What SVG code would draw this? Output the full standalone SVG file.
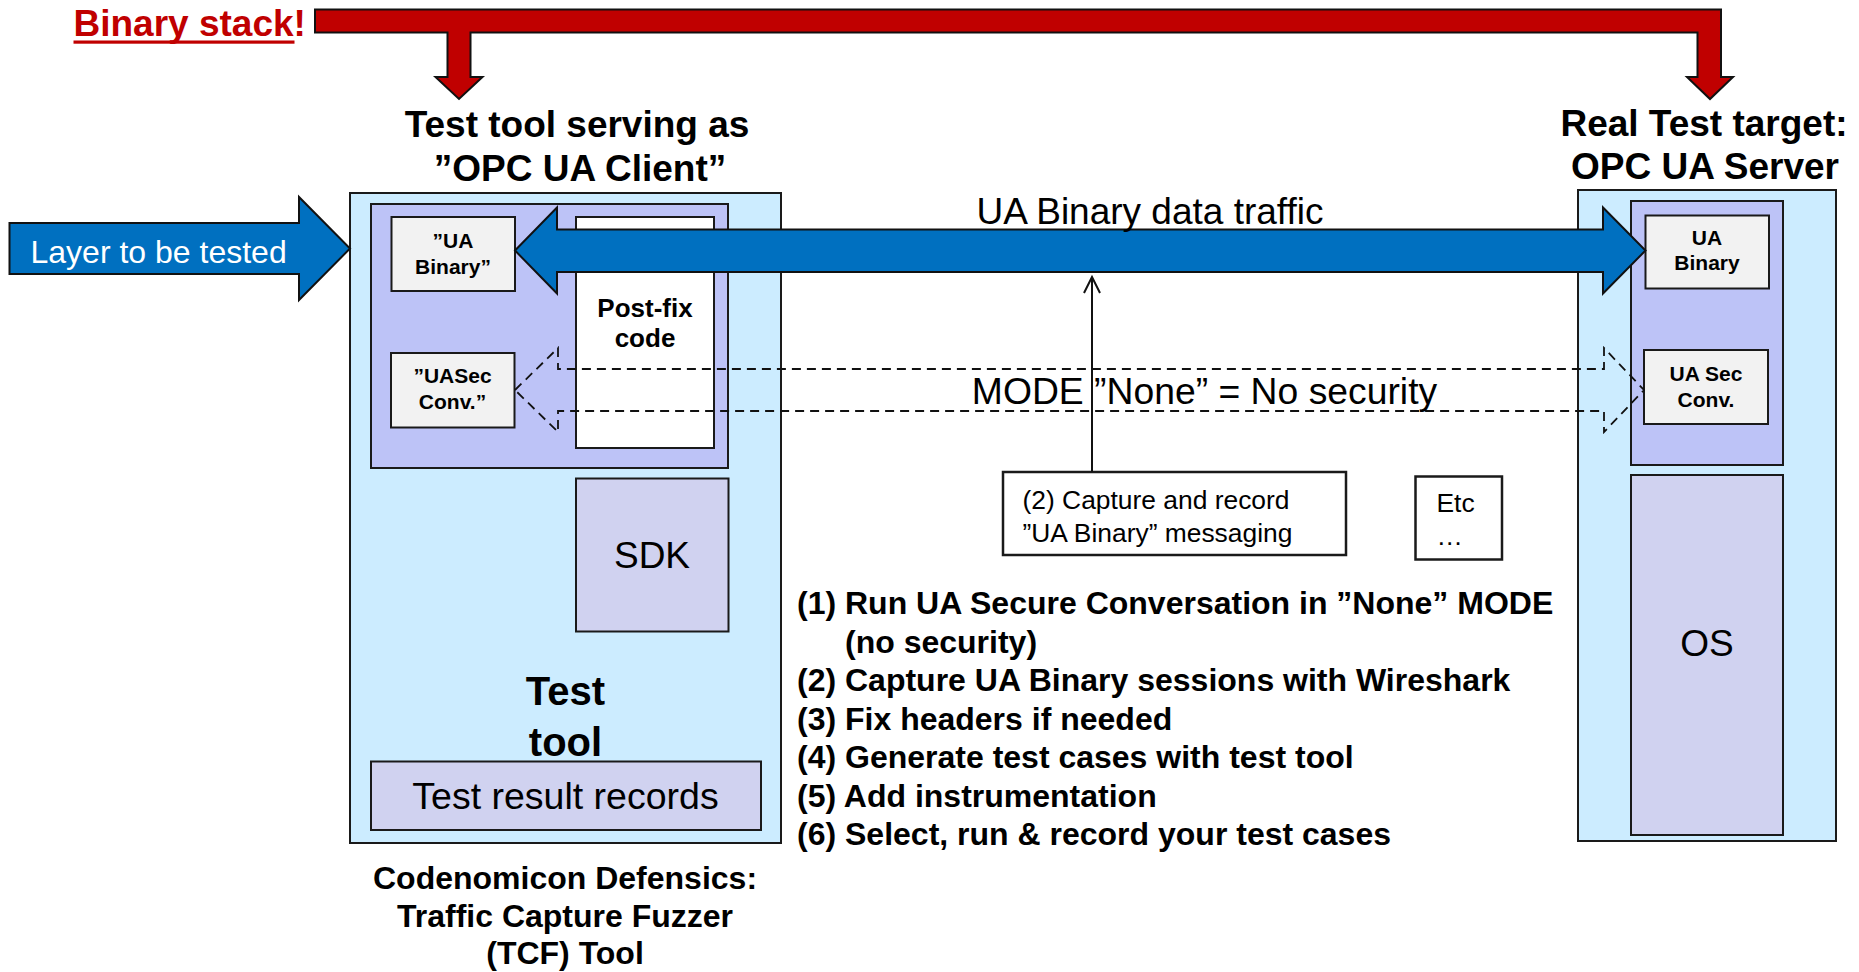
<svg xmlns="http://www.w3.org/2000/svg" width="1859" height="972" viewBox="0 0 1859 972">
  <style>
    text { font-family: "Liberation Sans", Arial, sans-serif; fill: #000; }
    .b { font-weight: bold; }
    .mid { text-anchor: middle; }
    .outer { fill: #CCECFF; stroke: #1a1a1a; stroke-width: 2; }
    .stack { fill: #BDC3F7; stroke: #1a1a1a; stroke-width: 2; }
    .layer { fill: #F2F2F2; stroke: #1a1a1a; stroke-width: 2; }
    .soft { fill: #D0D2F0; stroke: #1a1a1a; stroke-width: 2; }
    .white { fill: #FFFFFF; stroke: #1a1a1a; stroke-width: 2; }
    .note { fill: #FFFFFF; stroke: #1a1a1a; stroke-width: 2.5; }
    .blue { fill: #0070C0; stroke: #111; stroke-width: 2; }
    .red { fill: #C00000; stroke: #111; stroke-width: 2; }
    .dash { fill: none; stroke: #111; stroke-width: 1.8; stroke-dasharray: 9 6; }
    .thin { fill: none; stroke: #111; stroke-width: 2; }
  </style>

  <!-- heading -->
  <g id="binary-stack">
    <text x="73.5" y="35.5" class="b" font-size="37" style="fill:#C00000">Binary stack!</text>
    <rect x="73.5" y="40.5" width="221" height="3.2" fill="#C00000"/>
  </g>

  <!-- test tool (client side) -->
  <g id="test-tool">
    <rect class="outer" x="350" y="193" width="431" height="650"/>
    <text class="b mid" x="565.5" y="705" font-size="40">Test</text>
    <text class="b mid" x="565.5" y="756" font-size="40">tool</text>
  </g>
  <g id="client-title">
    <text class="b mid" x="577" y="137" font-size="37">Test tool serving as</text>
    <text class="b mid" x="580" y="181" font-size="37">”OPC UA Client”</text>
  </g>
  <g id="client-stack">
    <rect class="stack" x="371" y="204" width="357" height="264"/>
  </g>
  <g id="client-ua-binary">
    <rect class="layer" x="391.5" y="217" width="123.5" height="74"/>
    <text class="b mid" x="453" y="248" font-size="21">”UA</text>
    <text class="b mid" x="453" y="274" font-size="21">Binary”</text>
  </g>
  <g id="client-uasec">
    <rect class="layer" x="391" y="353" width="123.5" height="74.5"/>
    <text class="b mid" x="452.5" y="383" font-size="21">”UASec</text>
    <text class="b mid" x="452.5" y="409" font-size="21">Conv.”</text>
  </g>
  <g id="post-fix-code">
    <rect class="white" x="576" y="217" width="138" height="231"/>
    <text class="b mid" x="645" y="316.5" font-size="26">Post-fix</text>
    <text class="b mid" x="645" y="346.5" font-size="26">code</text>
  </g>
  <g id="sdk">
    <rect class="soft" x="576" y="478.5" width="152.5" height="153"/>
    <text class="mid" x="652" y="568" font-size="37">SDK</text>
  </g>
  <g id="test-result-records">
    <rect class="soft" x="371" y="761.5" width="390" height="68.5"/>
    <text class="mid" x="565.5" y="808.5" font-size="37.5">Test result records</text>
  </g>
  <g id="tool-caption">
    <text class="b mid" x="565" y="889" font-size="32">Codenomicon Defensics:</text>
    <text class="b mid" x="565" y="927" font-size="32">Traffic Capture Fuzzer</text>
    <text class="b mid" x="565" y="964" font-size="32">(TCF) Tool</text>
  </g>

  <!-- real test target (server side) -->
  <g id="server-title">
    <text class="b mid" x="1704" y="136" font-size="37">Real Test target:</text>
    <text class="b mid" x="1705" y="179" font-size="37">OPC UA Server</text>
  </g>
  <g id="test-target">
    <rect class="outer" x="1578" y="190" width="258" height="651"/>
  </g>
  <g id="server-stack">
    <rect class="stack" x="1631" y="201" width="152" height="264"/>
  </g>
  <g id="server-ua-binary">
    <rect class="layer" x="1645.5" y="215.5" width="123.5" height="73"/>
    <text class="b mid" x="1707" y="245" font-size="21">UA</text>
    <text class="b mid" x="1707" y="270" font-size="21">Binary</text>
  </g>
  <g id="server-uasec">
    <rect class="layer" x="1644" y="350" width="124" height="74"/>
    <text class="b mid" x="1706" y="381" font-size="21">UA Sec</text>
    <text class="b mid" x="1706" y="407" font-size="21">Conv.</text>
  </g>
  <g id="os">
    <rect class="soft" x="1631" y="475" width="152" height="360"/>
    <text class="mid" x="1707" y="656" font-size="37">OS</text>
  </g>

  <!-- side notes -->
  <g id="capture-note">
    <rect class="note" x="1003" y="472" width="343" height="83"/>
    <text x="1022.5" y="509" font-size="26.4">(2) Capture and record</text>
    <text x="1022.5" y="541.5" font-size="26.4">”UA Binary” messaging</text>
  </g>
  <g id="etc-note">
    <rect class="note" x="1415.5" y="476.5" width="86.5" height="83"/>
    <text x="1436.5" y="512" font-size="26.4">Etc</text>
    <text x="1436.5" y="545" font-size="26.4">…</text>
  </g>
  <g id="steps">
    <text x="797" y="614" class="b" font-size="32">(1) Run UA Secure Conversation in ”None” MODE</text>
    <text x="845" y="652.5" class="b" font-size="32">(no security)</text>
    <text x="797" y="691" class="b" font-size="32">(2) Capture UA Binary sessions with Wireshark</text>
    <text x="797" y="729.5" class="b" font-size="32">(3) Fix headers if needed</text>
    <text x="797" y="768" class="b" font-size="32">(4) Generate test cases with test tool</text>
    <text x="797" y="806.5" class="b" font-size="32">(5) Add instrumentation</text>
    <text x="797" y="845" class="b" font-size="32">(6) Select, run &amp; record your test cases</text>
  </g>

  <!-- connectors -->
  <g id="connectors">
    <!-- red bracket arrow from the heading down to both stacks -->
    <path class="red" d="M315,9.5 H1721 V77 H1733 L1710,99 L1687,77 H1697.5 V32.5 H470.5 V77 H482.5 L459,99 L435.5,77 H447.5 V32.5 H315 Z"/>
    <!-- layer under test -->
    <path class="blue" d="M9.5,223 H299 V197 L350,248.5 L299,300 V274 H9.5 Z"/>
    <text x="30.5" y="263" font-size="32" style="fill:#FFFFFF">Layer to be tested</text>
    <!-- UA Binary data traffic, both directions -->
    <path class="blue" d="M515,250.5 L557,207.5 V229.5 H1603 V207.5 L1645.5,250.5 L1603,293.5 V272 H557 V293.5 Z"/>
    <text class="mid" x="1150" y="224" font-size="37">UA Binary data traffic</text>
    <!-- secure conversation channel, security mode None -->
    <path class="dash" d="M515,390 L558,348 V369 H1604 V348 L1644,390 L1604,432 V411 H558 V432 Z"/>
    <text class="mid" x="1204.5" y="403.5" font-size="37.3">MODE ”None” = No security</text>
    <!-- capture tap on the traffic -->
    <line class="thin" x1="1092" y1="472" x2="1092" y2="277"/>
    <polyline class="thin" points="1084,293 1092,277 1100,293"/>
  </g>
</svg>
